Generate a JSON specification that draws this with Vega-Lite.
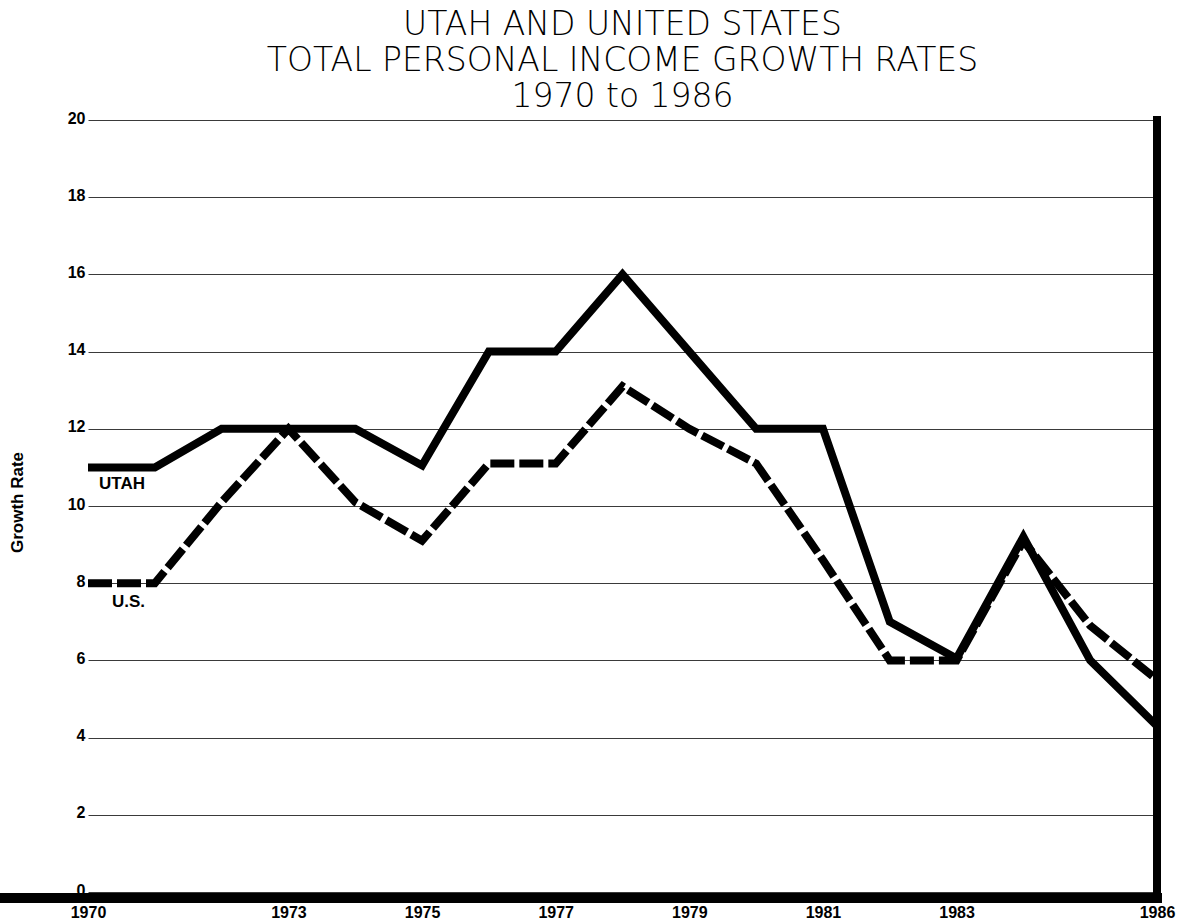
{
  "$schema": "https://vega.github.io/schema/vega-lite/v6.json",
  "width": 1069,
  "height": 772,
  "autosize": {"type": "none"},
  "padding": {"left": 88, "top": 120, "right": 24, "bottom": 31},
  "background": "white",
  "config": {"view": {"stroke": null}, "font": "Liberation Sans"},
  "title": {
    "text": ["UTAH AND UNITED STATES", "TOTAL PERSONAL INCOME GROWTH RATES", "1970 to 1986"],
    "font": "DejaVu Sans",
    "fontWeight": 200,
    "fontSize": 33,
    "lineHeight": 36,
    "color": "black",
    "anchor": "middle",
    "frame": "group",
    "offset": -4
  },
  "data": {
    "values": [
      {"series": "Utah", "year": 1970, "rate": 11},
      {"series": "Utah", "year": 1971, "rate": 11},
      {"series": "Utah", "year": 1972, "rate": 12},
      {"series": "Utah", "year": 1973, "rate": 12},
      {"series": "Utah", "year": 1974, "rate": 12},
      {"series": "Utah", "year": 1975, "rate": 11.05},
      {"series": "Utah", "year": 1976, "rate": 14},
      {"series": "Utah", "year": 1977, "rate": 14},
      {"series": "Utah", "year": 1978, "rate": 16},
      {"series": "Utah", "year": 1979, "rate": 14},
      {"series": "Utah", "year": 1980, "rate": 12},
      {"series": "Utah", "year": 1981, "rate": 12},
      {"series": "Utah", "year": 1982, "rate": 7},
      {"series": "Utah", "year": 1983, "rate": 6.05},
      {"series": "Utah", "year": 1984, "rate": 9.2},
      {"series": "Utah", "year": 1985, "rate": 6},
      {"series": "Utah", "year": 1986, "rate": 4.3},
      {"series": "U.S.", "year": 1970, "rate": 8},
      {"series": "U.S.", "year": 1971, "rate": 8},
      {"series": "U.S.", "year": 1972, "rate": 10.1},
      {"series": "U.S.", "year": 1973, "rate": 12},
      {"series": "U.S.", "year": 1974, "rate": 10.1},
      {"series": "U.S.", "year": 1975, "rate": 9.1},
      {"series": "U.S.", "year": 1976, "rate": 11.1},
      {"series": "U.S.", "year": 1977, "rate": 11.1},
      {"series": "U.S.", "year": 1978, "rate": 13.1},
      {"series": "U.S.", "year": 1979, "rate": 12},
      {"series": "U.S.", "year": 1980, "rate": 11.1},
      {"series": "U.S.", "year": 1981, "rate": 8.6},
      {"series": "U.S.", "year": 1982, "rate": 6},
      {"series": "U.S.", "year": 1983, "rate": 6},
      {"series": "U.S.", "year": 1984, "rate": 9.1},
      {"series": "U.S.", "year": 1985, "rate": 6.9},
      {"series": "U.S.", "year": 1986, "rate": 5.5}
    ]
  },
  "layer": [
    {
      "mark": {"type": "rule", "stroke": "black", "strokeWidth": 9, "strokeCap": "square"},
      "encoding": {
        "x": {"datum": 1968.7, "type": "quantitative"},
        "x2": {"datum": 1986},
        "y": {"datum": -0.15, "type": "quantitative"}
      }
    },
    {
      "mark": {"type": "rule", "stroke": "black", "strokeWidth": 8, "strokeCap": "square"},
      "encoding": {
        "x": {"datum": 1986, "type": "quantitative"},
        "y": {"datum": -0.15, "type": "quantitative"},
        "y2": {"datum": 20}
      }
    },
    {
      "transform": [{"filter": "datum.series === 'U.S.'"}],
      "mark": {"type": "line", "stroke": "black", "strokeWidth": 8, "strokeDash": [24, 5], "strokeJoin": "miter", "strokeCap": "butt"},
      "encoding": {
        "x": {
          "field": "year", "type": "quantitative",
          "scale": {"domain": [1970, 1986], "nice": false, "zero": false},
          "axis": {
            "values": [1970, 1973, 1975, 1977, 1979, 1981, 1983, 1986],
            "format": "d", "grid": false, "ticks": false, "domain": false,
            "labelFont": "Liberation Sans", "labelFontWeight": "bold", "labelFontSize": 16,
            "labelColor": "black", "labelPadding": 12, "labelOverlap": false, "labelFlush": false,
            "title": null
          }
        },
        "y": {
          "field": "rate", "type": "quantitative",
          "scale": {"domain": [0, 20], "nice": false},
          "axis": {
            "values": [0, 1, 2, 3, 4, 5, 6, 7, 8, 9, 10, 11, 12, 13, 14, 15, 16, 17, 18, 19, 20],
            "labelExpr": "datum.value % 2 == 0 ? datum.label : ''",
            "grid": true, "gridColor": "#3a3a3a", "gridWidth": 1,
            "ticks": false, "domain": false,
            "labelFont": "Liberation Sans", "labelFontWeight": "bold", "labelFontSize": 16,
            "labelColor": "black", "labelPadding": 3, "labelOverlap": false,
            "labelBaseline": "alphabetic", "labelOffset": 3,
            "title": "Growth Rate", "titleFont": "Liberation Sans", "titleFontWeight": "bold",
            "titleFontSize": 17, "titleColor": "black", "titleX": -71, "titleY": 382,
            "titleAngle": -90, "titleAlign": "center", "titleBaseline": "middle"
          }
        }
      }
    },
    {
      "transform": [{"filter": "datum.series === 'Utah'"}],
      "mark": {"type": "line", "stroke": "black", "strokeWidth": 8, "strokeJoin": "miter", "strokeCap": "butt"},
      "encoding": {
        "x": {"field": "year", "type": "quantitative"},
        "y": {"field": "rate", "type": "quantitative"}
      }
    },
    {
      "transform": [{"filter": "datum.series === 'Utah' && datum.year === 1970"}],
      "mark": {"type": "text", "text": "UTAH", "align": "left", "baseline": "middle", "dx": 11, "dy": 17, "font": "Liberation Sans", "fontWeight": "bold", "fontSize": 17, "fill": "black"},
      "encoding": {
        "x": {"field": "year", "type": "quantitative"},
        "y": {"field": "rate", "type": "quantitative"}
      }
    },
    {
      "transform": [{"filter": "datum.series === 'U.S.' && datum.year === 1970"}],
      "mark": {"type": "text", "text": "U.S.", "align": "left", "baseline": "middle", "dx": 24, "dy": 19, "font": "Liberation Sans", "fontWeight": "bold", "fontSize": 17, "fill": "black"},
      "encoding": {
        "x": {"field": "year", "type": "quantitative"},
        "y": {"field": "rate", "type": "quantitative"}
      }
    }
  ]
}
